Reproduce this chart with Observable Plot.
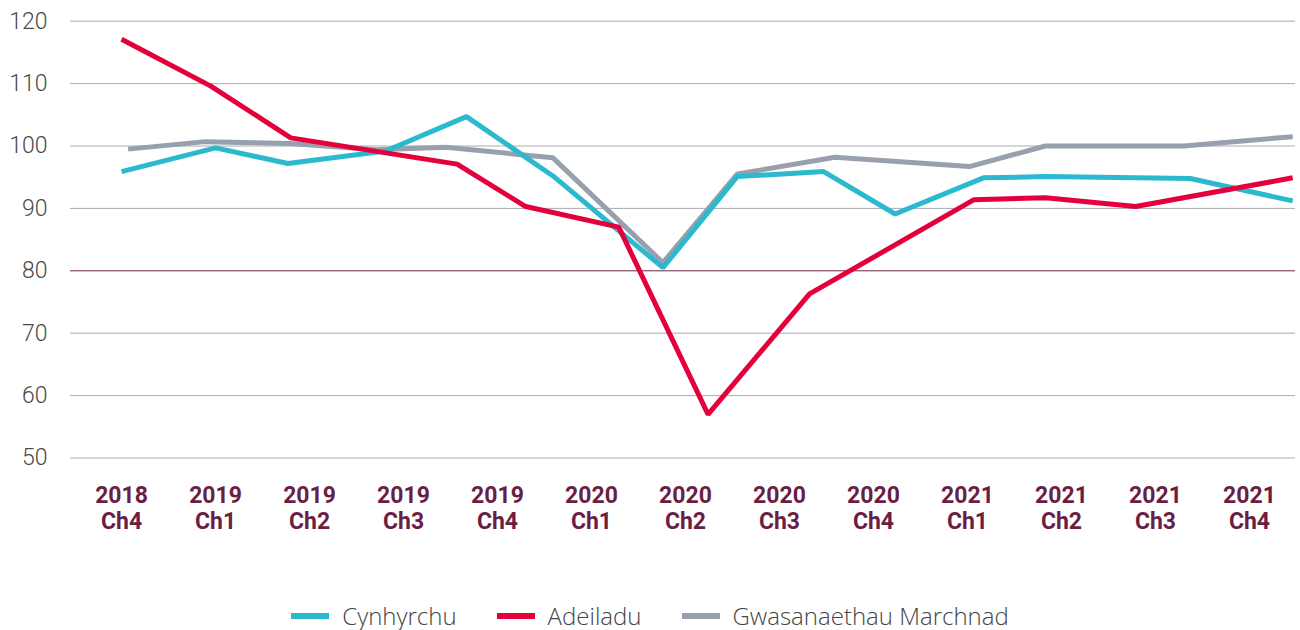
<!DOCTYPE html>
<html>
<head>
<meta charset="utf-8">
<script src="https://cdn.jsdelivr.net/npm/d3@7"></script>
<script src="https://cdn.jsdelivr.net/npm/@observablehq/plot@0.6"></script>
<style>
  html, body { margin: 0; padding: 0; background: #fff; }
  #chart { width: 1300px; }
  .legend { display: flex; justify-content: center; align-items: center; margin-top: 42px; height: 28px; line-height: 28px;
    font-family: "Open Sans", Lato, sans-serif; font-weight: 300; font-size: 24px; color: #454545; }
  .legend .item { display: flex; align-items: center; margin: 0 20px; }
  .legend .sw { width: 38px; height: 6px; margin-right: 13px; }
</style>
</head>
<body>
<div id="chart"></div>
<script>
// Quarter labels (x categories, position index 0..12)
const quarterLabels = ["2018\nCh4","2019\nCh1","2019\nCh2","2019\nCh3","2019\nCh4","2020\nCh1","2020\nCh2","2020\nCh3","2020\nCh4","2021\nCh1","2021\nCh2","2021\nCh3","2021\nCh4"];
const yTicks = [50, 60, 70, 80, 90, 100, 110, 120];

// Series: positions along the quarter axis (fractional index) and values
const cynhyrchuX = [0, 1.0, 1.77, 2.81, 3.67, 4.59, 5.76, 6.55, 7.47, 8.23, 9.17, 9.83, 11.37, 12.46];
const cynhyrchuY = [95.9, 99.7, 97.2, 99.2, 104.7, 95.2, 80.5, 95.1, 95.9, 89.1, 94.9, 95.1, 94.8, 91.2];

const adeiladuX = [0, 0.95, 1.80, 3.57, 4.30, 5.29, 6.24, 7.32, 9.07, 9.83, 10.79, 12.46];
const adeiladuY = [117.1, 109.6, 101.3, 97.1, 90.3, 87.0, 57.0, 76.3, 91.4, 91.7, 90.3, 94.9];

const gwasanaethauX = [0.07, 0.89, 1.80, 2.71, 3.45, 4.59, 5.76, 6.55, 7.59, 9.02, 9.83, 11.30, 12.46];
const gwasanaethauY = [99.5, 100.7, 100.4, 99.4, 99.8, 98.1, 81.3, 95.5, 98.2, 96.7, 100.0, 100.0, 101.5];

const seriesNames = ["Cynhyrchu", "Adeiladu", "Gwasanaethau Marchnad"];
const seriesColors = ["#2BB9CE", "#E4003B", "#99A0AD"];

const toRows = (xs, ys, name) => xs.map((x, i) => ({x, y: ys[i], name}));
const rowsC = toRows(cynhyrchuX, cynhyrchuY, seriesNames[0]);
const rowsA = toRows(adeiladuX, adeiladuY, seriesNames[1]);
const rowsG = toRows(gwasanaethauX, gwasanaethauY, seriesNames[2]);

const chart = Plot.plot({
  width: 1300,
  height: 560,
  marginTop: 20.7,
  marginBottom: 102.5,
  marginLeft: 70,
  marginRight: 5,
  x: {domain: [-0.543, 12.49], axis: null},
  y: {domain: [50, 120], axis: null},
  marks: [
    Plot.ruleY(yTicks.filter(v => v !== 80), {stroke: "#A7ACB8", strokeWidth: 1}),
    Plot.ruleY([80], {stroke: "#6B2545", strokeWidth: 1}),
    Plot.axisY(yTicks, {anchor: "left", tickSize: 0, tickPadding: 23, label: null,
      fontSize: 23, fontWeight: 300, fill: "#4a4a4a", fontFamily: "Roboto"}),
    Plot.axisX(d3.range(quarterLabels.length), {anchor: "bottom", tickSize: 0, tickPadding: 26, label: null,
      tickFormat: i => quarterLabels[i], fontSize: 23, fontWeight: "bold", fill: "#6B1E44",
      fontFamily: "Roboto", lineHeight: 1.15}),
    Plot.line(rowsG, {x: "x", y: "y", stroke: seriesColors[2], strokeWidth: 5, strokeLinejoin: "miter", strokeLinecap: "butt"}),
    Plot.line(rowsC, {x: "x", y: "y", stroke: seriesColors[0], strokeWidth: 5, strokeLinejoin: "miter", strokeLinecap: "butt"}),
    Plot.line(rowsA, {x: "x", y: "y", stroke: seriesColors[1], strokeWidth: 5, strokeLinejoin: "miter", strokeLinecap: "butt"})
  ]
});
document.getElementById("chart").appendChild(chart);

const legend = document.createElement("div");
legend.className = "legend";
seriesNames.forEach((n, i) => {
  const item = document.createElement("div");
  item.className = "item";
  const sw = document.createElement("span");
  sw.className = "sw";
  sw.style.background = seriesColors[i];
  const t = document.createElement("span");
  t.textContent = n;
  item.appendChild(sw); item.appendChild(t);
  legend.appendChild(item);
});
document.getElementById("chart").appendChild(legend);
</script>
</body>
</html>
